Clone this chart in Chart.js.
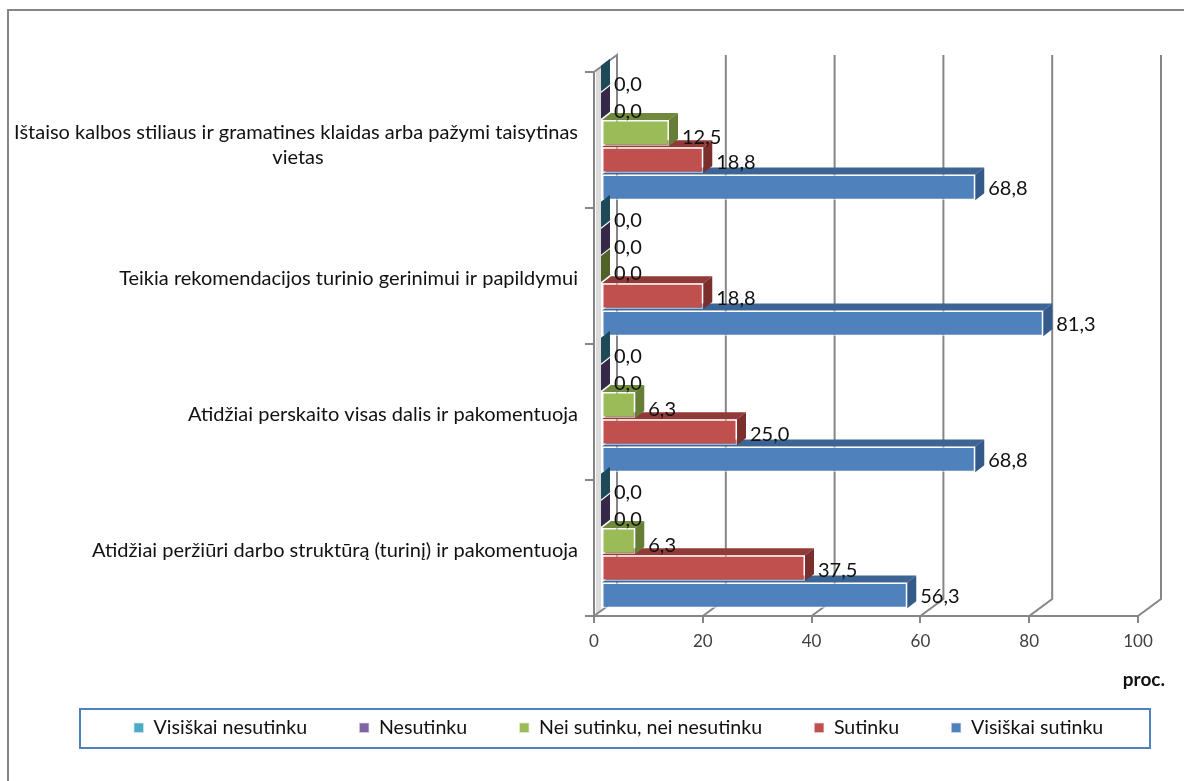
<!DOCTYPE html>
<html><head><meta charset="utf-8">
<style>html,body{margin:0;padding:0;background:#fff}#w{width:1184px;height:781px;position:relative}canvas{display:block}</style>
<script src="https://cdn.jsdelivr.net/npm/chart.js@4/dist/chart.umd.min.js"></script>
</head><body><div id="w"><canvas id="c" width="1184" height="781"></canvas></div>
<script>
const categories=[["Ištaiso kalbos stiliaus ir gramatines klaidas arba pažymi taisytinas","vietas"],"Teikia rekomendacijos turinio gerinimui ir papildymui","Atidžiai perskaito visas dalis ir pakomentuoja","Atidžiai peržiūri darbo struktūrą (turinį) ir pakomentuoja"];
const seriesNames=["Visiškai nesutinku","Nesutinku","Nei sutinku, nei nesutinku","Sutinku","Visiškai sutinku"];
const visiskaiNesutinku=[0,0,0,0];
const nesutinku=[0,0,0,0];
const neiSutinku=[12.5,0,6.3,6.3];
const sutinku=[18.8,18.8,25,37.5];
const visiskaiSutinku=[68.8,81.3,68.8,56.3];
const frontColors=["#4BACC6","#8064A2","#9BBB59","#C0504D","#4F81BD"];
const topColors=["#2d6a7b","#4d3c62","#71893f","#923a38","#3c6494"];
const sideColors=["#205867","#3f3151","#667d36","#7a2f2d","#345a8a"];
const zeroSideColors=["#1d4a56","#352848","#4f6228","#7a2f2d","#345a8a"];
const labelDy=[6,6,5,2,1];
const FONT="Lato";
const BAR_SHIFT={x:7,y:-7},DEPTH={x:9,y:-7},WALL={x:23,y:-17};
const GRID="#868686";
function poly(ctx,pts,fill){ctx.beginPath();pts.forEach((p,i)=>i?ctx.lineTo(p[0],p[1]):ctx.moveTo(p[0],p[1]));ctx.closePath();ctx.fillStyle=fill;ctx.fill();}
const pseudo3d={id:'pseudo3d',
 afterLayout(chart){const l=chart.legend;const pad=l.options.labels.padding;l.left=53;l.right=1184;l.width=1070;l.top=728-10-pad;},
 beforeDraw(chart){const {ctx,scales:{y}}=chart;ctx.save();
  ctx.strokeStyle=GRID;ctx.lineWidth=2;ctx.beginPath();ctx.moveTo(8,781);ctx.lineTo(8,10);ctx.lineTo(1184,10);ctx.stroke();
  ctx.strokeStyle="#4F81BD";ctx.lineWidth=2;ctx.strokeRect(80,709,1070,39);
  ctx.restore();
  const items=y.getLabelItems(chart.chartArea);
  if(!items.wrapped){items.wrapped=true;
   items.forEach(it=>{const t=it.options.translation;it.options.translation=[t[0],t[1]+3];});
   const first=items[0];
   if(Array.isArray(first.label)){
    const lh=first.font.lineHeight,cx=298,t=first.options.translation;
    const tail=Object.assign({},first,{label:first.label[1],textOffset:lh/2+3,options:Object.assign({},first.options,{textAlign:'center',translation:[cx,t[1]]})});
    first.label=first.label[0];first.textOffset=-lh/2+2;
    items.push(tail);
   }
  }},
 beforeDatasetsDraw(chart){const {ctx,scales:{x,y}}=chart;const top=y.top,bot=y.bottom,x0=x.getPixelForValue(0);ctx.save();
  poly(ctx,[[x0+2,top],[x0+7,top-5],[x0+7,bot-7],[x0+2,bot]],"#dcdcdc");
  ctx.strokeStyle=GRID;ctx.lineWidth=2;
  x.ticks.forEach(t=>{const px=x.getPixelForValue(t.value);ctx.beginPath();
   if(t.value===0){ctx.moveTo(px,top);ctx.lineTo(px+WALL.x,top+WALL.y);ctx.lineTo(px+WALL.x,bot+WALL.y);ctx.lineTo(px,bot);}
   else{ctx.moveTo(px,bot);ctx.lineTo(px+WALL.x,bot+WALL.y);ctx.lineTo(px+WALL.x,top+WALL.y);}
   ctx.stroke();});
  ctx.restore();},
 beforeDatasetDraw(chart,args){const {ctx}=chart;const i=args.index;const meta=args.meta;ctx.save();ctx.translate(BAR_SHIFT.x,BAR_SHIFT.y);
  meta.data.forEach(b=>{const h=b.height/2,xl=b.base,xr=b.x,yt=b.y-h,yb=b.y+h;
   if(xr>xl)poly(ctx,[[xl,yt],[xl+DEPTH.x,yt+DEPTH.y],[xr+DEPTH.x,yt+DEPTH.y],[xr,yt]],topColors[i]);
   poly(ctx,[[xr,yt],[xr+DEPTH.x,yt+DEPTH.y],[xr+DEPTH.x,yb+DEPTH.y],[xr,yb]],xr>xl?sideColors[i]:zeroSideColors[i]);});},
 afterDatasetDraw(chart){chart.ctx.restore();},
 afterDatasetsDraw(chart){const {ctx}=chart;ctx.save();ctx.font="20px "+FONT;ctx.fillStyle="#111";ctx.textBaseline="middle";ctx.textAlign="left";
  chart.data.datasets.forEach((ds,i)=>{chart.getDatasetMeta(i).data.forEach((b,j)=>{
   ctx.fillText(ds.data[j].toFixed(1).replace(".",","),b.x+BAR_SHIFT.x+13,b.y+BAR_SHIFT.y+labelDy[i]);});});
  ctx.font="bold 19px "+FONT;ctx.fillStyle="#111";ctx.textAlign="right";ctx.fillText("proc.",1165,680);
  ctx.restore();}
};
new Chart(document.getElementById('c'),{type:'bar',
 data:{labels:categories,datasets:seriesNames.map((n,i)=>({label:n,data:[visiskaiNesutinku,nesutinku,neiSutinku,sutinku,visiskaiSutinku][i],backgroundColor:frontColors[i],borderColor:"rgba(255,255,255,.55)",borderWidth:1.5,borderSkipped:false,barPercentage:.95,categoryPercentage:1,clip:false}))},
 options:{indexAxis:'y',responsive:false,animation:false,devicePixelRatio:1,
  layout:{padding:{left:0,right:46,top:72,bottom:0}},
  plugins:{tooltip:{enabled:false},
   legend:{position:'bottom',labels:{font:{family:FONT,size:19.6},color:"#111",boxWidth:10,boxHeight:10,padding:52}}},
  scales:{
   x:{min:0,max:100,afterFit(s){s.height=83.4;},ticks:{stepSize:20,font:{family:FONT,size:17},color:"#404040",padding:8,maxRotation:0},grid:{drawOnChartArea:false,color:GRID,lineWidth:2,tickLength:7},border:{color:GRID,width:2}},
   y:{afterFit(s){s.width=594;},ticks:{font:{family:FONT,size:20},color:"#111",padding:7,autoSkip:false},grid:{drawOnChartArea:false,color:GRID,lineWidth:2,tickLength:9},border:{color:GRID,width:2}}
  }},
 plugins:[pseudo3d]});
</script></body></html>
